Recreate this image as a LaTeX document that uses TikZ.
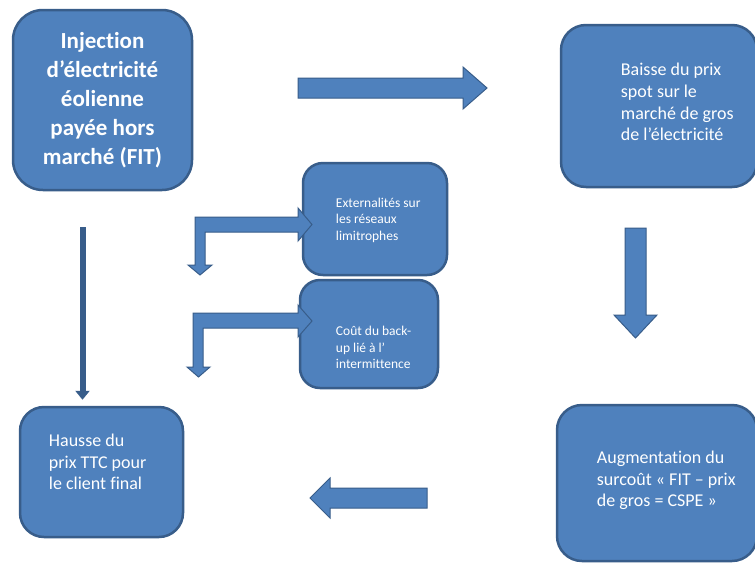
\documentclass[tikz,border=0pt]{standalone}
\usepackage{fontspec}
\setmainfont{Carlito}[Ligatures=NoCommon]
\usetikzlibrary{positioning,arrows.meta}

\definecolor{boxFill}{RGB}{79,129,189}
\definecolor{boxLine}{RGB}{56,93,138}

\tikzset{
  box/.style={draw=boxLine, fill=boxFill, line width=2.5pt, rounded corners=#1, inner sep=0pt},
  box/.default=22pt,
  boxText/.style={text=white, inner sep=0pt, align=left, font=\fontsize{18}{21.7}\selectfont},
  smallText/.style={boxText, font=\fontsize{13.5}{16.5}\selectfont},
  blockArrow/.style={fill=boxFill, draw=boxLine, line width=1pt, line join=miter},
  thinArrow/.style={draw=boxLine, line width=6pt, -{Triangle[width=14pt,length=9pt]}}
}

\begin{document}
\begin{tikzpicture}[x=1pt, y=-1pt]
% slide frame
\useasboundingbox (0,0) rectangle (755,563);
\clip (0,0) rectangle (755,563);
\fill[white] (0,0) rectangle (755,563);

% Boxes
\node[box=30pt, minimum width=179pt, minimum height=180pt] (inj) at (102.5,100) {};
\node[box=25pt, minimum width=196pt, minimum height=162pt] (baisse) at (659,106) {};
\node[box=25pt, minimum width=200pt, minimum height=156pt] (surcout) at (657,483) {};
\node[box=24pt, minimum width=163pt, minimum height=130pt] (hausse) at (101.5,472) {};
\node[box=20pt, minimum width=144pt, minimum height=112pt] (extern) at (375,219) {};
\node[box=20pt, minimum width=138pt, minimum height=108pt] (backup) at (369,334) {};

% Texts
\node[boxText, align=center, font=\bfseries\fontsize{23}{29}\selectfont] (inj-t) at (inj.center)
  {Injection\\d’électricité\\éolienne\\payée hors\\marché (FIT)};
\node[boxText, right=61pt of baisse.west, yshift=4pt] (baisse-t)
  {Baisse du prix\\spot sur le\\marché de gros\\de l’électricité};
\node[boxText, right=41pt of surcout.west, yshift=2.5pt] (surcout-t)
  {Augmentation du\\surcoût « FIT – prix\\de gros = CSPE »};
\node[boxText, right=30pt of hausse.west, yshift=10pt] (hausse-t)
  {Hausse du\\prix TTC pour\\le client final};
\node[smallText, right=34pt of extern.west, yshift=-1pt] (extern-t)
  {Externalités sur\\les réseaux\\limitrophes};
\node[smallText, right=37pt of backup.west, yshift=-13.5pt] (backup-t)
  {Coût du back-\\up lié à l’\\intermittence};

% Block arrows
\begin{scope}[blockArrow]
  % right, towards the spot price
  \filldraw (298,78) -- (463,78) -- (463,67) -- (487,88) -- (463,109) -- (463,98) -- (298,98) -- cycle;
  % down, towards the CSPE
  \filldraw (625,228) -- (646,228) -- (646,315) -- (657,315) -- (635.5,338) -- (614,315) -- (625,315) -- cycle;
  % left, towards the final client
  \filldraw (427,488) -- (427,508) -- (330,508) -- (330,518) -- (310,498) -- (330,478) -- (330,488) -- cycle;
  % bent arrows, externalities
  \filldraw (195,217) -- (298,217) -- (298,208) -- (312,224.5) -- (298,241) -- (298,232) -- (205,232)
    -- (205,265) -- (212,265) -- (200,275) -- (188,265) -- (195,265) -- cycle;
  \filldraw (193,313) -- (298,313) -- (298,305) -- (312,321) -- (298,337) -- (298,328) -- (203,328)
    -- (203,367) -- (210,367) -- (198.5,377) -- (187,367) -- (193,367) -- cycle;
\end{scope}

% thin arrow, straight down to the final price
\draw[thinArrow, shorten <=36pt, shorten >=6pt] ([xshift=-20pt]inj.south) -- ([xshift=-20pt]inj.south |- hausse.north);
\end{tikzpicture}
\end{document}
